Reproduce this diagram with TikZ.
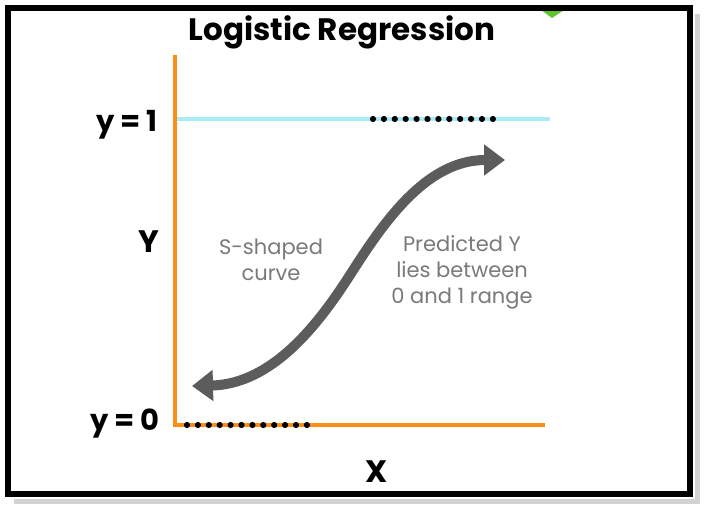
\documentclass[tikz,border=0pt]{standalone}
\usepackage{fontspec}
\setmainfont{Poppins}
\usepackage{xcolor}
\usetikzlibrary{arrows.meta, positioning}
\definecolor{axisorange}{RGB}{255,140,20}
\definecolor{onecyan}{RGB}{168,236,246}
\definecolor{curvegray}{RGB}{92,92,92}
\definecolor{notegray}{RGB}{122,122,122}
\definecolor{leafgreen}{RGB}{96,196,44}

\begin{document}
\begin{tikzpicture}[
  x=1pt, y=-1pt,
  axis/.style ={draw=axisorange, line width=4.5pt},
  level/.style={draw=onecyan, line width=4pt},
  lbl/.style  ={font=\fontsize{29}{32}\selectfont\bfseries, inner sep=0pt},
  big/.style  ={font=\fontsize{31}{34}\selectfont\bfseries, inner sep=0pt},
  note/.style ={font=\fontsize{21}{26}\selectfont, text=notegray, align=center, inner sep=0pt},
  scurve/.style={draw=curvegray, line width=10pt,
                 {Triangle[width=30pt,length=21pt]}-{Triangle[width=30pt,length=21pt]}},
  dotfill/.style={fill=black}
]
\useasboundingbox (0,0) rectangle (706,510);
\fill[white] (0,0) rectangle (706,510);

%% ---- frame ----
\fill[leafgreen] (541,10) -- (564,10) -- (552,18) -- cycle;
\draw[gray!35, line width=5pt] (697,14) -- (697,501) -- (14,501);
\draw[line width=6.5pt] (8,8) rectangle (690,494);

%% ---- title ----
\node[font=\fontsize{31}{33}\selectfont\bfseries, inner sep=0pt, anchor=base] (title) at (342,41) {Logistic Regression};

%% ---- axes ----
\coordinate (ytop)   at (175,55);
\coordinate (origin) at (175,425);
\coordinate (xend)   at (545,425);
\coordinate (lvlA)   at (177,119);
\coordinate (lvlB)   at (550,119);
\draw[level] (lvlA) -- (lvlB);
\draw[axis] (ytop) -- (origin) -- (xend);

% dotted stretches on y = 1 and y = 0
\foreach \i in {0,...,11}
  \fill[dotfill] ({373+\i*10.9},119) circle (3.1pt);
\foreach \i in {0,...,11}
  \fill[dotfill] ({187+\i*10.9},425) circle (3.1pt);

%% ---- labels ----
\node[lbl, anchor=base east] (lblone)  at (158,132) {y = 1};
\node[lbl, anchor=base east] (lblzero) at (160,430) {y = 0};
\node[big, anchor=base] (ylbl) at (149,253) {Y};
\node[big, anchor=base] (xlbl) at (377,482) {X};

%% ---- S curve ----
\coordinate (cA) at (192,386);
\coordinate (cM) at (350,275);
\coordinate (cB) at (505,160);
\draw[scurve] (cA) .. controls (272,384) and (318,325) .. (cM)
                   .. controls (382,225) and (425,160) .. (cB);

%% ---- notes ----
\node[note] (snote) at (271,260) {S-shaped\\curve};
\node[note] (pnote) at (462,272) {Predicted Y\\lies between\\0 and 1 range};

\end{tikzpicture}
\end{document}
